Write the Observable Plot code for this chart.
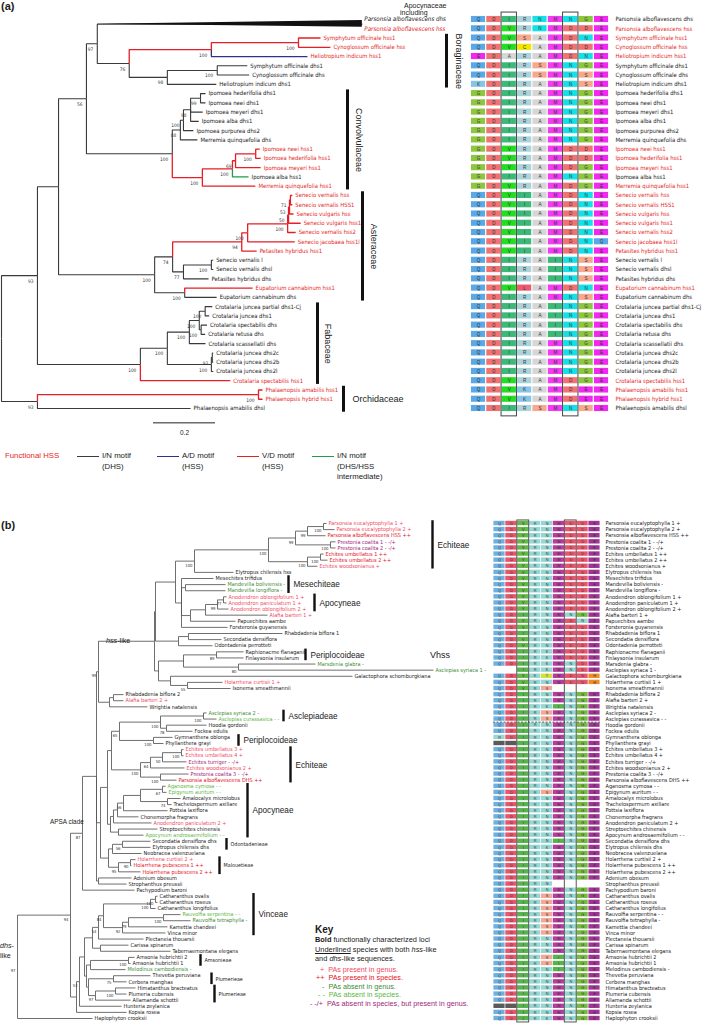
<!DOCTYPE html>
<html><head><meta charset="utf-8">
<script src="https://cdn.jsdelivr.net/npm/d3@7"></script>
<script src="https://cdn.jsdelivr.net/npm/@observablehq/plot@0.6"></script>
<style>
body{margin:0;background:#fff;}
#fig{position:relative;width:709px;height:1023px;overflow:hidden;background:#fff;font-family:"Liberation Sans",Arial,sans-serif;color:#1a1a1a;}
.abs{position:absolute;white-space:nowrap;}
</style></head><body><div id="fig"></div>
<script>
// ======================= DATA : panel (a) =======================
const namesA = ["Parsonsia alboflavescens dhs","Parsonsia alboflavescens hss","Symphytum officinale hss1","Cynoglossum officinale hss","Heliotropium indicum hss1","Symphytum officinale dhs1","Cynoglossum officinale dhs","Heliotropium indicum dhs1","Ipomoea hederifolia dhs1","Ipomoea neei dhs1","Ipomoea meyeri dhs1","Ipomoea alba dhs1","Ipomoea purpurea dhs2","Merremia quinquefolia dhs","Ipomoea neei hss1","Ipomoea hederifolia hss1","Ipomoea meyeri hss1","Ipomoea alba hss1","Merremia quinquefolia hss1","Senecio vernalis hss","Senecio vernalis HSS1","Senecio vulgaris hss","Senecio vulgaris hss1","Senecio vernalis hss2","Senecio jacobaea hss1l","Petasites hybridus hss1","Senecio vernalis l","Senecio vernalis dhsl","Petasites hybridus dhs","Eupatorium cannabinum hss1","Eupatorium cannabinum dhs","Crotalaria juncea partial dhs1-Cj","Crotalaria juncea dhs1","Crotalaria spectabilis dhs","Crotalaria retusa dhs","Crotalaria scassellatii dhs","Crotalaria juncea dhs2c","Crotalaria juncea dhs2b","Crotalaria juncea dhs2l","Crotalaria spectabilis hss1","Phalaenopsis amabilis hss1","Phalaenopsis hybrid hss1","Phalaenopsis amabilis dhsl"];
const functionalA = [2,3,4,5,15,16,17,19,20,21,22,23,24,25,26,30,40,41,42];
// branch motif per row: k = I/N (DHS), b = A/D, r = V/D, g = I/N intermediate
const branchMotifA = "krrrbkkkkkkkkkrrrgrrrrrrrrkkkrkkkkkkkkkrrrk";
const seqA = ["QDIRNMNGE","QDVRNMDDE","QDVSAMDNE","QDVCAMDDE","EDARAMDNE","QDIRSMNGE","QDIRSMNSE","KDIRAMNSE",
"GDIRAMNGE","GDIRAMNGE","GDIRAMNGE","GDIRAMNGE","GDIRAMNGE","GDIRAMNGE","GDVRAMDDE","GDVRAMDDE","GDVRAMDGE","GDIRAMNGE","GDVRAMDGE",
"QDVIAMDNE","QDVIAMDNE","QDVIAMDNE","QDVIAMDNE","QDVIAMDNE","QDVIAMDNQ","QDVIAMDNE","QDIRAINSE","QDIRAINSE","QDIRAINSE","QDVLAMDNE","QDIRAMNSE",
"QDIRAINGE","QDIRAINGE","QDIRAINGE","QDIRAINGE","QDIRAMNGE","QDIRAMNGE","QDIRAMNGE","QDIRAMNGE","QDVRAMDGE","QDVKAMDEE","QDVKAMDEE","QDIRSMNSE"];
const motifColumns = [3, 7];
// tree (a): leaves are row numbers, branch lengths in substitutions/site, "*" = collapsed clade
const newickA = "((((" +
 "((1:0,2:0)*:0.855,(((3:0.071,4:0.103)100:0.281,5:0.310)100:0.265,((6:0.097,7:0.103)100:0.161,8:0.158)98:0.123)76:0.103)97:0.035," +
 "(((((9:0.016,10:0.016)99:0.032,11:0.039,12:0.026)98:0.023,13:0.032)100:0.010,14:0.055)88:0.026,((((15:0.013,16:0.016)100:0.065,17:0.081)69:0.010,18:0.052)100:0.097,19:0.171)100:0.097)100:0.277" +
 ")56:0.090," +
 "((((((((20:0.006,21:0.006)71:0.003,22:0.013)53:0.003,23:0.039)50:0.003,24:0.026)100:0.129,25:0.152)100:0.019,26:0.048)94:0.223,((27:0.006,28:0.006)100:0.090,29:0.081)77:0.035)74:0.058,(30:0.219,31:0.103)100:0.097)100:0.310" +
 "):0.068," +
 "(((((32:0.023,33:0.013)100:0.019,(34:0.019,35:0.013)100:0.006)100:0.032,36:0.052)100:0.071,((37:0.003,38:0.003)93:0.003,39:0.006)100:0.142)100:0.087,40:0.290)100:0.332" +
 ")93:0.116,((41:0.013,42:0.013)100:0.713,43:0.494)93:0.116)";
const cladeNamesA = ["Boraginaceae","Convolvulaceae","Asteraceae","Fabaceae","Orchidaceae"];
const cladeFirstA = [3,9,20,32,41];
const cladeLastA = [8,19,31,40,43];
const scaleBarA = 0.2;
const legendMotifs = [["I/N motif","(DHS)"],["A/D motif","(HSS)"],["V/D motif","(HSS)"],["I/N motif","(DHS/HSS","intermediate)"]];

// ======================= DATA : panel (b) =======================
const namesB = ["Parsonsia eucalyptophylla 1","Parsonsia eucalyptophylla 2","Parsonsia alboflavescens HSS","Prestonia coalita 1","Prestonia coalita 2","Echites umbellatus 1","Echites umbellatus 2","Echites woodsonianus","Elytropus chilensis hss","Mesechites trifidus","Mandevilla boliviensis","Mandevilla longiflora","Anodendron oblongifolium 1","Anodendron paniculatum 1","Anodendron oblongifolium 2","Alafia barteri 1","Papuechites aambe","Forsteronia guyanensis","Rhabdadenia biflora 1","Secondatia densiflora","Odontadenia perrotteti","Raphionacme flanaganii","Finlaysonia insularum","Marsdenia glabra","Asclepias syriaca 1","Galactophora schomburgkiana","Holarrhena curtisii 1","Isonema smeathmannii","Rhabdadenia biflora 2","Alafia barteri 2","Wrightia natalensis","Asclepias syriaca 2","Asclepias curassavica","Hoodia gordonii","Fockea edulis","Gymnanthera oblonga","Phyllanthera grayi","Echites umbellatus 3","Echites umbellatus 4","Echites turriger","Echites woodsonianus 2","Prestonia coalita 3","Parsonsia alboflavescens DHS","Aganosma cymosa","Epigynum auritum","Amalocalyx microlobus","Trachelospermum axillare","Pottsia laxiflora","Chonemorpha fragrans","Anodendron paniculatum 2","Streptoechites chinensis","Apocynum androsaemifolium","Secondatia densiflora dhs","Elytropus chilensis dhs","Neobracea valenzuelana","Holarrhena curtisii 2","Holarrhena pubescens 1","Holarrhena pubescens 2","Adenium obesum","Strophanthus preussii","Pachypodium baroni","Catharanthus ovalis","Catharanthus roseus","Catharanthus longifolius","Rauvolfia serpentina","Rauvolfia tetraphylla","Kamettia chandeei","Vinca minor","Plectaneia thouarsii","Carissa spinarum","Tabernaemontana elegans","Amsonia hubrichtii 2","Amsonia hubrichtii 1","Melodinus cambodiensis","Thevetia peruviana","Cerbera manghas","Himatanthus bracteatus","Plumeria cubensis","Allamanda schottii","Hunteria zeylanica","Kopsia rosea","Haplophyton crooksii"];
// PA status [row, code]
const statusB = [[1,"+"],[2,"+"],[3,"++"],[4,"- -/+"],[5,"- -/+"],[6,"++"],[7,"++"],[8,"+"],[11,"-"],[12,"-"],[13,"+"],[14,"+"],[15,"+"],[16,"+"],[24,"-"],[25,"-"],[27,"+"],[30,"+"],[32,"-"],[33,"- -"],[38,"+"],[39,"+"],[40,"- -/+"],[41,"+"],[42,"- -/+"],[43,"++"],[44,"- -"],[45,"- -"],[50,"+"],[52,"- -"],[56,"+"],[57,"++"],[58,"++"],[65,"- -"],[66,"-"],[74,"-"]];
const tribeB = [[9,"(Odontadenieae)"],[16,"(Nerieae)"],[17,"(Apocyneae)"],[18,"(Mesechiteae)"],[19,"(Rhabdadenieae)"],[20,"(Odontadenieae)"],[21,"(Odontadenieae)"],[24,"(Marsdenieae)"],[25,"(Asclepiadeae)"],[26,"(Malouetieae)"],[27,"(Malouetieae)"],[28,"(Nerieae)"],[29,"(Rhabdadenieae)"],[30,"(Nerieae)"],[31,"(Wrightieae)"],[34,"(Ceropegieae)"],[35,"(Fockeeae)"],[55,"(Malouetieae)"],[59,"(Nerieae)"],[60,"(Nerieae)"],[61,"(Malouetieae)"],[69,"(Alyxieae)"],[70,"(Carisseae)"],[71,"(Tabernaemontaneae)"],[74,"(Melodineae)"],[80,"(Hunterieae)"],[81,"(Vinceae)"],[82,"(Aspidospermateae)"]];
const underlinedB = [3,4,5,6,7,8,9,13,14,16,19,20,25,27,29,30,32,38,39,41,42,43,50,53,54,56];
const boldB = [3,43];
const boldTreeB = [3,43,57,58];
const highlightB = [3,43];
const seqB = ["QDVRNMDDE","QDVRNMDDE","QDVRNMDDE","QDVRNMDDE","QDVRNMDDE","QDVRNMDDE","QDVRNMDDE","QDVRNMDDE","QDVRNMDDE","QDVRNMDDE",
"QDVRNMDDE","QDVRNMDDE","QDVRNMDDE","QDVRNMDDE","QDVRNMDDE","QDIRNMNGE","QDVRNMDNE","QDVRNMDDE","QDIRNMDDE","QDVRNMDDE",
"QDVRNMDDE","QDIRKMDDE","QDIRKMDDE","QDIRKMNDE","..IRKMNDE","QDVKYMDDH","QDVRNMDDH","QDVRS....","QDIRNMNGE","QDIRNMNGE",
"QDIRKINGE","QDIRSMNGE","QDIRSMNGE","QDIRNMNGE","QDIRNMNGE","RDIRNMNGE","xxIRNMNGE","QDIRNMNGE","QDIRNMNGE","QDIRNMNGE",
"QDIRNMNGE","QDIRNMNGE","QDIRNMNGE","QDIRNMNGE","QDIRSMNGE","QDIRNMNGE","QDIRNMNGE","QDIRNMNGE","QDIRNMNGE","QDIRNMNGE",
"QDIRNMNGE","QDIRNMNGE","QDIRNINGE","QDIRKMNGE","QDIRNMNGE","QDIRNMNGE","QDIRNMNGE","QDIRNMNGE","QDIRNMNGE","QDIRN....",
"QDIRNMNGE","QDIRSMNGE","QDIRSMNGE","QDIRSMNGE","QDIRSMNGE","QDIRSMNGE","QDIRSMNGE","QDIRSMNGE","QDIRNMNGE","QDIRNMNGE",
"QDIRNMNGE","QDIRSINGE","QDIRSINGE","QDIRNINGE","QDIRNMNGE","QDIRNMNGE","QDIRNMNGE","QDIRNMNGE","QDIRNMNGE","xxIRNMNGE",
"QDIRNMNGE","QDIRKMNGE"];
const separatorAfterRowB = 33;
// tree (b): leaves are row numbers, branch lengths in relative units
const newickB = "(((((((" +
 "((((((((1:0.03,2:0.11)100:0.16,3:0.18)99:0.12,(4:0.05,5:0.05)100:0.35)99:0.27,((6:0.03,7:0.07)100:0.13,8:0.10)100:0.39)100:0.74,9:0.39)100:0.19," +
 "(10:0.32,(11:0.40,12:0.40):0.04,((((13:0.03,14:0.03)77:0.06,15:0.11)99:0.12,16:0.62):0.15,17:0.45):0.09,18:0.46):0.06):0.20," +
 "((19:0.94,20:0.33):0.10,21:0.34):0.23):0.01," +
 "(((22:0.27,23:0.27)89:0.33,(24:0.77,25:1.95)80:0.55):0.25,(26:1.82,(27:0.35,28:0.43)55:0.17):0.12):0.04):0.56," +
 "((29:0.10,30:0.10):0.04,31:0.38):0.11)99:0.02," +
 "((((((32:0.03,33:0.13)100:0.43,(34:0.40,35:0.26)78:0.06)100:0.41,(36:0.19,37:0.10)100:0.34)65:0.08,((((38:0.02,39:0.02)100:0.19,40:0.24)50:0.12,41:0.34)64:0.10,(42:0.28,43:0.16)100:0.20)100:0.29):0.04," +
 "((((((44:0.03,45:0.04)67:0.22,(46:0.13,47:0.04)74:0.27):0.17,48:0.44)56:0.06,49:0.21):0.04,50:0.38):0.03,(51:0.39,52:0.25):0.08):0.03):0.07," +
 "(((53:0.28,54:0.28)56:0.10,55:0.29):0.04,((56:0.05,57:0.01)90:0.12,58:0.22)95:0.10):0.08):0.04," +
 "(59:0.33,60:0.28):0.02):0.05):0.09,61:0.52)87:0.12," +
 "((((((((62:0.02,63:0.02)100:0.05,64:0.05)100:0.47,(((65:0.17,66:0.27)100:0.35,67:0.39)79:0.06,68:0.43)92:0.19)84:0.05,69:0.45)54:0.06,(70:0.28,71:0.70):0.08):0.08,(((72:0.06,73:0.02)100:0.38,74:0.35):0.04,((75:0.37,76:0.13)75:0.25,((77:0.20,78:0.11)100:0.20,79:0.35)97:0.07):0.02):0.02):0.05,80:0.42)53:0.03,81:0.50):0.06" +
 ")94:0.53,82:0.75)97";
const cladeNamesB = ["Echiteae","Mesechiteae","Apocyneae","Periplocoideae","Asclepiadeae","Periplocoideae","Echiteae","Apocyneae","Odontadenieae","Malouetieae","Vinceae","Amsonieae","Plumerieae","Plumerieae"];
const cladeFirstB = [1,10,13,22,32,36,38,44,53,56,62,72,75,77];
const cladeLastB = [8,12,15,23,33,37,43,52,54,58,68,73,76,79];
const keyCodes = ["+","++","-","- -","- -/+"];
const keyTexts = ["PAs present in genus.","PAs present in species.","PAs absent in genus.","PAs absent in species.","PAs absent in species, but present in genus."];

// ======================= STYLE / LAYOUT =======================
const FN = "'Liberation Sans Narrow','DejaVu Sans Condensed','Arial Narrow','Liberation Sans',sans-serif";
const FW = "'Liberation Sans',Arial,sans-serif";
const RED = "#e41f26";
const motifColor = {k: "#3a3a3a", r: RED, b: "#2e3192", g: "#1d9f4a"};
const aaColA = {Q:"#5aa9e6",D:"#f07272",I:"#3cb878",V:"#22dd22",R:"#aad3dc",S:"#f7a88e",A:"#d6d6d6",C:"#f2e600",N:"#14e0e8",M:"#f23cf2",G:"#8dc63f",E:"#f028f0",K:"#86c5e8",L:"#ec5a6e"};
const aaColB = {Q:"#6eb1e1",D:"#e8566d",V:"#63b947",I:"#58b24e",R:"#96d6d3",N:"#96d6d3",K:"#96d6d3",S:"#f4a896",M:"#b53d9e",G:"#76ba43",E:"#9e3494",H:"#f08c28",Y:"#cfe23e",x:"#5a5a5a"};
const statusColor = {"+":"#ef4a64","++":"#e4121d","-":"#3d8c34","- -":"#5cb646","- -/+":"#a1247c","":"#1a1a1a"};
const xA = {domain:[0,1.4], range:[1, 1+1.4*310]};
const yA = {domain:[1,43], range:[19,408]};
const colA = {domain:[1,9], range:[478,601]};
const xB = {domain:[0,4.3], range:[17,447]};
const yB = {domain:[1,82], range:[523,1018]};
const colB = {domain:[1,9], range:[499,594]};
const pxToA = px => (px - xA.range[0]) / 310;
const pxToB = px => (px - xB.range[0]) / 100;
const barPxA = [446,347,362,317,343], labPxA = [458,358,373,327,352];
const barPxB = [432,288,314,305,283,238,290,247,226,219,253,200,211,214];
const bigCladeB = [1,1,1,1,1,1,1,1,0,0,1,0,0,0];
const FS_A = 5.9, FS_B = 5.5;

// ======================= HELPERS =======================
function parseNewick(str){
  const s = str.replace(/\s+/g,""); let i = 0;
  function read(){
    const n = {children: []};
    if (s[i] === "("){ i++; n.children.push(read()); while (s[i] === ","){ i++; n.children.push(read()); } i++; }
    let name = ""; while (i < s.length && !",:);".includes(s[i])) name += s[i++];
    let len = 0;
    if (s[i] === ":"){ i++; let t = ""; while (i < s.length && !",);".includes(s[i])) t += s[i++]; len = +t; }
    if (n.children.length) n.label = name; else n.row = +name;
    n.len = len; return n;
  }
  return read();
}
function layoutTree(root){
  const nodes = [];
  (function walk(n, parent){
    n.parent = parent; n.x = (parent ? parent.x : 0) + n.len;
    n.collapsed = n.label === "*";
    n.hidden = parent ? (parent.hidden || parent.collapsed) : false;
    n.children.forEach(c => walk(c, n));
    if (n.children.length){ n.y = (n.children[0].y + n.children[n.children.length-1].y)/2; n.rows = n.children.flatMap(c => c.rows); }
    else { n.y = n.row; n.rows = [n.row]; }
    nodes.push(n);
  })(root, null);
  return nodes;
}
const fig = document.getElementById("fig");
function html(txt, x, yc, size, css=""){
  const d = document.createElement("div"); d.className = "abs";
  d.style.cssText = `left:${x}px;top:${yc - size*0.62}px;font-size:${size}px;line-height:${size*1.2}px;${css}`;
  d.innerHTML = txt; fig.appendChild(d); return d;
}
const baseStyle = "position:absolute;left:0;top:0;background:transparent;overflow:visible;";
function plot(opts){ const p = Plot.plot({width:709, height:1023, margin:0, color:{type:"identity"}, style: baseStyle, ...opts}); fig.appendChild(p); return p; }
const mapOf = pairs => new Map(pairs);

// ======================= PANEL (a) TREE =======================
const nodesA = layoutTree(parseNewick(newickA));
function motifOf(n){ const s = new Set(n.rows.map(r => branchMotifA[r-1])); return s.has("k") ? "k" : s.has("r") ? "r" : [...s][0]; }
const linksA = nodesA.filter(n => n.parent && !n.hidden).map(n => ({x1:n.parent.x, y1:n.parent.y, x2:n.x, y2:n.y, m: motifOf(n)}));
const wedgeA = nodesA.filter(n => n.collapsed).flatMap(n => [
  {x:n.parent.x, y1:n.y, y2:n.y, id:n.rows[0]},
  {x:n.x, y1:n.rows[0]+0.1, y2:n.rows[n.rows.length-1]-0.15, id:n.rows[0]}]);
const leavesA = nodesA.filter(n => !n.children.length).sort((a,b) => a.row - b.row);
const bootA = nodesA.filter(n => n.children.length && !n.hidden && /^\d+$/.test(n.label));
const cladeIdxA = cladeNamesA.map((_, i) => i);
plot({x:{...xA, axis:null}, y:{...yA, axis:null}, marks:[
  Plot.link(linksA.filter(d => d.m === "k"), {x1:"x1", y1:"y1", x2:"x2", y2:"y2", curve:"step-before", stroke:"#3a3a3a", strokeWidth:1.1}),
  Plot.link(linksA.filter(d => d.m !== "k"), {x1:"x1", y1:"y1", x2:"x2", y2:"y2", curve:"step-before", stroke: d => motifColor[d.m], strokeWidth:1.3}),
  Plot.areaY(wedgeA, {x:"x", y1:"y1", y2:"y2", z:"id", fill:"#111", curve:"linear"}),
  Plot.text(leavesA.filter(d => d.row > 2), {x:"x", y:"y", text: d => namesA[d.row-1], fill: d => functionalA.includes(d.row) ? RED : "#1a1a1a", dx:3, textAnchor:"start", fontSize:FS_A, fontFamily:FN}),
  Plot.text(leavesA.filter(d => d.row <= 2), {x:"x", y:"y", text: d => namesA[d.row-1], fill: d => functionalA.includes(d.row) ? RED : "#1a1a1a", dx:2, textAnchor:"start", fontSize:FS_A+0.3, fontFamily:FN, fontStyle:"italic"}),
  Plot.text(bootA, {x:"x", y:"y", text:"label", dx:-4, dy:5.5, textAnchor:"end", fontSize:4.8, fill:"#333", fontFamily:FN}),
  Plot.ruleX(cladeIdxA, {x: i => pxToA(barPxA[i]), y1: i => cladeFirstA[i]-0.4, y2: i => cladeLastA[i]+0.4, stroke:"#111", strokeWidth:3}),
  Plot.text(cladeIdxA.filter(i => i < 4), {x: i => pxToA(labPxA[i]), y: i => (cladeFirstA[i]+cladeLastA[i])/2, text: i => cladeNamesA[i], rotate:90, fontSize:9, fill:"#222", fontFamily:FW}),
  Plot.text(cladeIdxA.filter(i => i === 4), {x: i => pxToA(labPxA[i]), y: i => (cladeFirstA[i]+cladeLastA[i])/2, text: i => cladeNamesA[i], textAnchor:"start", fontSize:9, fill:"#222", fontFamily:FW}),
  Plot.ruleY([scaleBarA], {x1: pxToA(153), x2: d => pxToA(153) + d, y: 44.55, stroke:"#222", strokeWidth:1}),
  Plot.text([scaleBarA], {x: d => pxToA(153) + d/2, y: 45.65, text: d => String(d), fontSize:6.5, fill:"#222", fontFamily:FW})
]});

// ======================= PANEL (a) ALIGNMENT =======================
const cellsA = seqA.flatMap((s, r) => [...s].map((aa, c) => ({row:r+1, col:c+1, aa}))).filter(d => d.aa !== ".");
plot({x:{...colA, axis:null}, y:{...yA, axis:null}, marks:[
  Plot.rect(cellsA, {x1: d => d.col-0.46, x2: d => d.col+0.46, y1: d => d.row-0.33, y2: d => d.row+0.33, fill: d => aaColA[d.aa]}),
  Plot.text(cellsA, {x:"col", y:"row", text:"aa", fontSize:4.6, fill:"#333", fontFamily:FW}),
  Plot.rect(motifColumns, {x1: c => c-0.5, x2: c => c+0.5, y1: 0.25, y2: seqA.length+0.85, fill:"none", stroke:"#444", strokeWidth:1}),
  Plot.text(namesA.map((n, i) => i+1), {x: 9, y: r => r, text: r => namesA[r-1], fill: r => functionalA.includes(r) ? RED : "#1a1a1a", dx:14, textAnchor:"start", fontSize:FS_A, fontFamily:FN})
]});

// ======================= PANEL (b) TREE =======================
const statusMapB = mapOf(statusB), tribeMapB = mapOf(tribeB);
const stB = r => statusMapB.get(r) || "";
const mainLabelB = r => namesB[r-1] + (stB(r) ? " " + stB(r) : "");
const nodesB = layoutTree(parseNewick(newickB));
const linksB = nodesB.filter(n => n.parent).map(n => ({x1:n.parent.x, y1:n.parent.y, x2:n.x, y2:n.y}));
const leavesB = nodesB.filter(n => !n.children.length).sort((a,b) => a.row - b.row);
const bootB = nodesB.filter(n => n.children.length && /^\d+$/.test(n.label));
const cladeIdxB = cladeNamesB.map((_, i) => i);
const svgB = plot({x:{...xB, axis:null}, y:{...yB, axis:null}, marks:[
  Plot.link(linksB, {x1:"x1", y1:"y1", x2:"x2", y2:"y2", curve:"step-before", stroke:"#555", strokeWidth:0.85}),
  Plot.text(leavesB, {x:"x", y:"y", text: d => mainLabelB(d.row), fill: d => statusColor[stB(d.row)], dx:2, textAnchor:"start", fontSize:FS_B, fontFamily:FN, ariaLabel:"tree-labels-b"}),
  Plot.text(bootB, {x:"x", y:"y", text:"label", dx:-2, dy:4.2, textAnchor:"end", fontSize:4.2, fill:"#333", fontFamily:FN}),
  Plot.ruleX(cladeIdxB, {x: i => pxToB(barPxB[i]), y1: i => cladeFirstB[i]-0.45, y2: i => cladeLastB[i]+0.45, stroke:"#111", strokeWidth:2.4}),
  Plot.text(cladeIdxB, {x: i => pxToB(barPxB[i]), y: i => (cladeFirstB[i]+cladeLastB[i])/2, text: i => cladeNamesB[i], textAnchor:"start", fontSize: 8.2, fill:"#222", fontFamily:FW, filter: i => bigCladeB[i], dx:5}),
  Plot.text(cladeIdxB, {x: i => pxToB(barPxB[i]), y: i => (cladeFirstB[i]+cladeLastB[i])/2, text: i => cladeNamesB[i], textAnchor:"start", fontSize: 5.4, fill:"#222", fontFamily:FN, filter: i => !bigCladeB[i], dx:4})
]});

// ======================= PANEL (b) ALIGNMENT =======================
const cellsB = seqB.flatMap((s, r) => [...s].map((aa, c) => ({row:r+1, col:c+1, aa}))).filter(d => d.aa !== ".");
const svgB2 = plot({x:{...colB, axis:null}, y:{...yB, axis:null}, marks:[
  Plot.rect(cellsB, {x1: d => d.col-0.47, x2: d => d.col+0.47, y1: d => d.row-0.36, y2: d => d.row+0.36, fill: d => aaColB[d.aa]}),
  Plot.text(cellsB.filter(d => d.aa !== "x"), {x:"col", y:"row", text:"aa", fontSize:3.8, fill:"#333", fontFamily:FW}),
  Plot.rect(motifColumns, {x1: c => c-0.5, x2: c => c+0.5, y1: 0.5, y2: seqB.length+0.65, fill:"none", stroke:"#444", strokeWidth:0.9}),
  Plot.ruleY([separatorAfterRowB + 0.5], {x1: 0.5, x2: 9.5, stroke:"#333", strokeWidth:0.8, strokeDasharray:"2,1.5"}),
  Plot.text(namesB.map((n, i) => i+1), {x: 9, y: r => r, text: r => mainLabelB(r), fill:"#1a1a1a", dx:11, textAnchor:"start", fontSize:FS_B, fontFamily:FN, ariaLabel:"aln-labels-b"})
]});

// rich text decoration for panel (b) labels (underline, bold, tribe, highlight)
const NS = "http://www.w3.org/2000/svg";
function decorate(svg, label, rows, withTribe, boldRows){
  const texts = svg.querySelectorAll(`g[aria-label="${label}"] text`);
  texts.forEach((t, i) => {
    const r = rows[i]; const main = t.textContent; t.textContent = "";
    const s1 = document.createElementNS(NS, "tspan"); s1.textContent = main;
    if (underlinedB.includes(r)) s1.setAttribute("style", "text-decoration:underline");
    if (boldRows.includes(r)) s1.setAttribute("font-weight", "bold");
    t.appendChild(s1);
    const tribe = withTribe ? tribeMapB.get(r) : (r === 25 ? "Vhss" : null);
    if (tribe){
      const s2 = document.createElementNS(NS, "tspan");
      if (withTribe && r === 25){ s1.setAttribute("dy", "-0.45em"); s2.setAttribute("x", t.getAttribute("x") || 0); s2.setAttribute("dy", "1.15em"); s2.textContent = tribe; }
      else { s2.textContent = " " + tribe; if (!withTribe) s2.setAttribute("font-size", "7.5"); }
      t.appendChild(s2);
    }
    if (withTribe && highlightB.includes(r)){
      const bb = t.getBBox();
      const rc = document.createElementNS(NS, "rect");
      rc.setAttribute("x", bb.x - 1.5); rc.setAttribute("y", bb.y - 0.5); rc.setAttribute("width", bb.width + 3); rc.setAttribute("height", bb.height + 1);
      rc.setAttribute("fill", "#9d9d9d"); rc.setAttribute("stroke", "#5a5a5a"); rc.setAttribute("stroke-width", "0.6");
      if (t.getAttribute("transform")) rc.setAttribute("transform", t.getAttribute("transform"));
      t.parentNode.insertBefore(rc, t);
    }
  });
}
decorate(svgB, "tree-labels-b", leavesB.map(d => d.row), true, boldTreeB);
decorate(svgB2, "aln-labels-b", namesB.map((n, i) => i+1), false, boldB);

// ======================= ANNOTATIONS / LEGENDS =======================
html("(a)", 1, 7, 11, "font-weight:bold");
html("(b)", 1, 526, 11, "font-weight:bold");
html("Apocynaceae", 404, 6, 7);
html("including", 400, 13, 7);
// motif legend (a)
html("Functional HSS", 5, 456, 7.8, `color:${RED}`);
const legX = [77, 157, 237, 312], legCol = ["#3a3a3a", "#2e3192", RED, "#1d9f4a"];
legendMotifs.forEach((lines, i) => {
  const ln = document.createElement("div"); ln.className = "abs";
  ln.style.cssText = `left:${legX[i]}px;top:${455.5}px;width:22px;height:1.4px;background:${legCol[i]}`;
  fig.appendChild(ln);
  lines.forEach((t, j) => html(t, legX[i] + 25, 456 + j*10.5, 7.8));
});
// panel (b) annotations
html("<i>hss</i>-like", 106, 641, 7.2);
html("<i>dhs</i>-", 0, 946, 7.2);
html("like", 0, 956, 7.2);
html("APSA clade", 50, 822, 6.4);
html("Vhss", 430, 656, 9);
// key
html("Key", 315, 930, 10, "font-weight:bold");
html("<b>Bold</b> functionally characterized loci", 315, 941, 7.4);
html("<u>Underlined</u> species with both <i>hss</i>-like", 315, 950.5, 7.4);
html("and <i>dhs</i>-like sequences.", 315, 960, 7.4);
keyCodes.forEach((c, i) => {
  const pad = [5, 1, 7, 3, -5][i];
  html(c + "&nbsp;&nbsp;" + keyTexts[i], 315 + pad, 970 + i*8.6, 7.2, `color:${statusColor[c]}`);
});
</script></body></html>
